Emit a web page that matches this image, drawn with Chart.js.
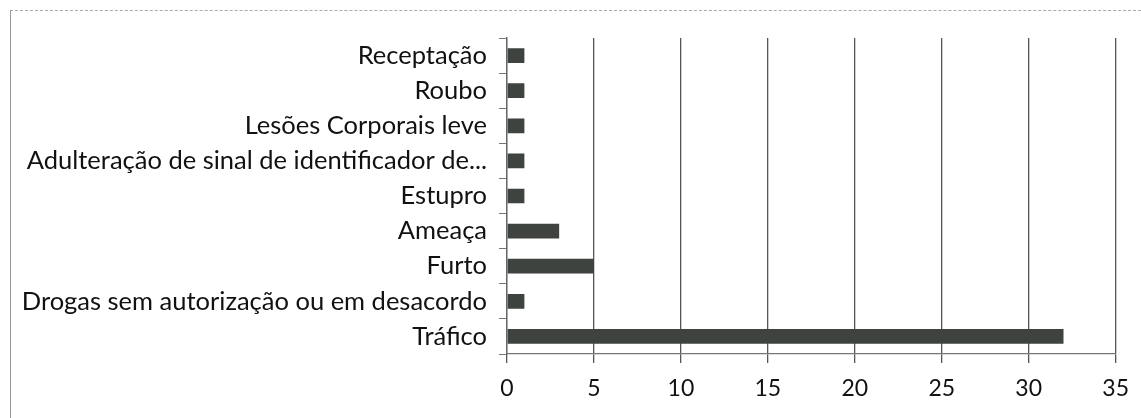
<!DOCTYPE html>
<html>
<head>
<meta charset="utf-8">
<script src="https://cdn.jsdelivr.net/npm/chart.js@4/dist/chart.umd.min.js"></script>
<style>
  html, body { margin: 0; padding: 0; background: #fff; }
  #wrap { position: relative; width: 1141px; height: 418px; }
  #frame { position: absolute; left: 10px; top: 10px; width: 1200px; height: 500px;
           border-left: 1px solid #999; border-top: 1px dashed #aaa; }
  canvas { position: absolute; left: 0; top: 0; }
</style>
</head>
<body>
<div id="wrap">
  <div id="frame"></div>
  <canvas id="crimesChart" width="1141" height="418"></canvas>
</div>
<script>
// Categories (top to bottom) and counts
var categories = [
    'Receptação',
    'Roubo',
    'Lesões Corporais leve',
    'Adulteração de sinal de identificador de...',
    'Estupro',
    'Ameaça',
    'Furto',
    'Drogas sem autorização ou em desacordo',
    'Tráfico'
];
var counts = [1, 1, 1, 1, 1, 3, 5, 1, 32];
var xTicks = [0, 5, 10, 15, 20, 25, 30, 35];

var ctx = document.getElementById('crimesChart').getContext('2d');
var crimesChart = new Chart(ctx, {
    type: 'bar',
    data: {
        labels: categories,
        datasets: [{
            data: counts,
            backgroundColor: '#3e433f',
            borderWidth: 0,
            barPercentage: 0.42,
            categoryPercentage: 1.0
        }]
    },
    options: {
        indexAxis: 'y',
        responsive: false,
        animation: false,
        layout: { padding: { top: 38, right: 23, bottom: 0, left: 0 } },
        plugins: {
            legend: { display: false },
            tooltip: { enabled: false }
        },
        scales: {
            x: {
                min: 0,
                max: 35,
                afterBuildTicks: function (scale) {
                    scale.ticks = xTicks.map(function (v) { return { value: v }; });
                },
                afterFit: function (scale) { scale.height = 64; },
                grid: {
                    color: '#555',
                    lineWidth: 1.3,
                    tickLength: 9
                },
                border: { display: true, color: '#777', width: 1.3 },
                ticks: {
                    color: '#111',
                    padding: 12,
                    font: { family: 'Lato', size: 23 }
                }
            },
            y: {
                afterFit: function (scale) { scale.width = 507; },
                grid: {
                    offset: true,
                    drawOnChartArea: false,
                    color: '#777',
                    tickLength: 8
                },
                border: { display: true, color: '#666', width: 1.3 },
                ticks: {
                    color: '#111',
                    padding: 12,
                    autoSkip: false,
                    font: { family: 'Lato', size: 25.5 }
                }
            }
        }
    }
});
</script>
</body>
</html>
